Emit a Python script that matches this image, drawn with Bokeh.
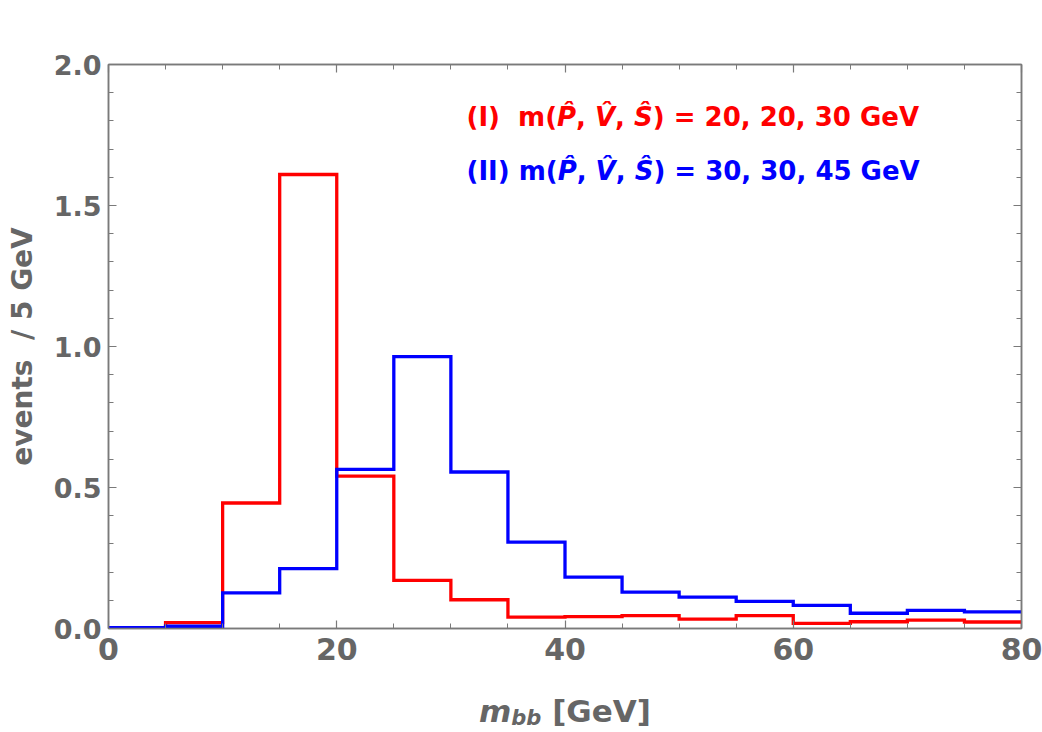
from bokeh.plotting import figure
from bokeh.layouts import column
from bokeh.models import Label, LinearAxis, SingleIntervalTicker, Range1d, PrintfTickFormatter
from bokeh.embed import file_html
from bokeh.resources import INLINE

# ---- data ----
bin_edges = [0, 5, 10, 15, 20, 25, 30, 35, 40, 45, 50, 55, 60, 65, 70, 75, 80]
red_values = [0.003, 0.021, 0.445, 1.61, 0.540, 0.171, 0.102, 0.040, 0.042, 0.046,
              0.033, 0.046, 0.018, 0.024, 0.030, 0.023]
blue_values = [0.003, 0.008, 0.126, 0.212, 0.564, 0.964, 0.555, 0.306, 0.182, 0.129,
               0.111, 0.096, 0.082, 0.054, 0.064, 0.059]
red_label = ["(I)\u00a0 m(", "P\u0302", ",\u00a0", "V\u0302", ",\u00a0", "S\u0302", ") = 20, 20, 30 GeV"]
blue_label = ["(II) m(", "P\u0302", ",\u00a0", "V\u0302", ",\u00a0", "S\u0302", ") = 30, 30, 45 GeV"]
italic_piece = [False, True, False, True, False, True, False]
x_label_parts = ["m", "bb", "\u00a0[GeV]"]
y_label = "events\u00a0 / 5 GeV"

FONT = "DejaVu Sans"
GRAY = "#666666"
FRAME = "#7a7a7a"
W_TOTAL, H_TOTAL = 1042, 732
FR_L, FR_R, FR_T, FR_B = 108, 1021, 64, 628
MAIN_H = 684

# DejaVu Sans Bold advance widths (em)
W = {" ": 0.348, "\u00a0": 0.348, "(": 0.457, ")": 0.457, "I": 0.372, "m": 1.042, "P": 0.733,
     "V": 0.774, "S": 0.720, ",": 0.380, "=": 0.838, "G": 0.821, "e": 0.678, "[": 0.457,
     "]": 0.457, "b": 0.716}
for d in "0123456789":
    W[d] = 0.696


def text_width(s, size):
    return sum(W.get(c, 0.0) for c in s) * size


p = figure(width=W_TOTAL, height=MAIN_H, x_range=Range1d(0, 80), y_range=Range1d(0, 2),
           output_backend="svg", toolbar_location=None,
           min_border_left=FR_L, min_border_right=W_TOTAL - FR_R,
           min_border_top=FR_T, min_border_bottom=MAIN_H - FR_B)
p.xgrid.visible = False
p.ygrid.visible = False
p.outline_line_color = FRAME
p.outline_line_width = 1.5
p.background_fill_color = "white"
p.border_fill_color = "white"

p.step(x=bin_edges, y=red_values + [red_values[-1]], mode="after",
       line_color="#ff0000", line_width=3.3, line_join="miter")
p.step(x=bin_edges, y=blue_values + [blue_values[-1]], mode="after",
       line_color="#0000ff", line_width=3.3, line_join="miter")


def style_axis(ax, ticker, show_labels, size):
    ax.ticker = ticker
    ax.axis_line_color = FRAME
    ax.axis_line_width = 1.5
    ax.major_tick_line_color = FRAME
    ax.minor_tick_line_color = FRAME
    ax.major_tick_line_width = 1.2
    ax.minor_tick_line_width = 1.0
    ax.major_tick_in = 8
    ax.major_tick_out = 0
    ax.minor_tick_in = 5
    ax.minor_tick_out = 0
    ax.major_label_text_font = FONT
    ax.major_label_text_font_style = "bold"
    ax.major_label_text_font_size = size
    ax.major_label_text_color = GRAY
    if not show_labels:
        ax.major_label_text_alpha = 0
        ax.major_label_text_font_size = "1px"


xa = p.xaxis[0]
style_axis(xa, SingleIntervalTicker(interval=20, num_minor_ticks=4), True, "30px")
xa.major_label_standoff = 9

ya = p.yaxis[0]
style_axis(ya, SingleIntervalTicker(interval=0.5, num_minor_ticks=5), True, "27px")
ya.formatter = PrintfTickFormatter(format="%.1f")
ya.major_label_standoff = 7
ya.axis_label = y_label
ya.axis_label_text_font = FONT
ya.axis_label_text_font_style = "bold"
ya.axis_label_text_font_size = "28px"
ya.axis_label_text_color = GRAY
ya.axis_label_standoff = 12

top = LinearAxis()
style_axis(top, SingleIntervalTicker(interval=20, num_minor_ticks=4), False, "1px")
p.add_layout(top, "above")
right = LinearAxis()
style_axis(right, SingleIntervalTicker(interval=0.5, num_minor_ticks=5), False, "1px")
p.add_layout(right, "right")

# legend text (screen units relative to frame bottom-left)
LEG_SIZE = 26
leg_x0 = 466 - FR_L
for parts, color, base in ((red_label, "#ff0000", FR_B - 116), (blue_label, "#0000ff", FR_B - 170)):
    x = leg_x0
    for part, it in zip(parts, italic_piece):
        p.add_layout(Label(x=x, y=base, x_units="screen", y_units="screen", text=part,
                           text_font=FONT, text_font_style="bold italic" if it else "bold",
                           text_font_size=f"{LEG_SIZE}px", text_color=color,
                           text_baseline="alphabetic", text_align="left"))
        x += text_width(part, LEG_SIZE)

# x axis title strip (separate canvas below the plot; its frame is aligned with the main frame)
STRIP_H = H_TOTAL - MAIN_H
p2 = figure(width=W_TOTAL, height=STRIP_H, x_range=Range1d(0, 80), y_range=Range1d(0, 1),
            output_backend="svg", toolbar_location=None, x_axis_location=None, y_axis_location=None,
            min_border=0, min_border_left=FR_L, min_border_right=W_TOTAL - FR_R,
            min_border_top=0, min_border_bottom=0)
p2.xgrid.visible = False
p2.ygrid.visible = False
p2.outline_line_color = None
p2.border_fill_color = "white"

XL = 31
XS = 21
total = text_width(x_label_parts[0], XL) + text_width(x_label_parts[1], XS) + text_width(x_label_parts[2], XL)
x = (FR_R - FR_L) / 2 - total / 2
xl_base = 22
p2.add_layout(Label(x=x, y=xl_base, x_units="screen", y_units="screen", text=x_label_parts[0],
                    text_font=FONT, text_font_style="bold italic", text_font_size=f"{XL}px",
                    text_color=GRAY, text_baseline="alphabetic"))
x += text_width(x_label_parts[0], XL)
p2.add_layout(Label(x=x, y=xl_base - 7, x_units="screen", y_units="screen", text=x_label_parts[1],
                    text_font=FONT, text_font_style="bold italic", text_font_size=f"{XS}px",
                    text_color=GRAY, text_baseline="alphabetic"))
x += text_width(x_label_parts[1], XS)
p2.add_layout(Label(x=x, y=xl_base, x_units="screen", y_units="screen", text=x_label_parts[2],
                    text_font=FONT, text_font_style="bold", text_font_size=f"{XL}px",
                    text_color=GRAY, text_baseline="alphabetic"))

layout = column(p, p2, spacing=0)
open("out.html", "w").write(file_html(layout, INLINE))
